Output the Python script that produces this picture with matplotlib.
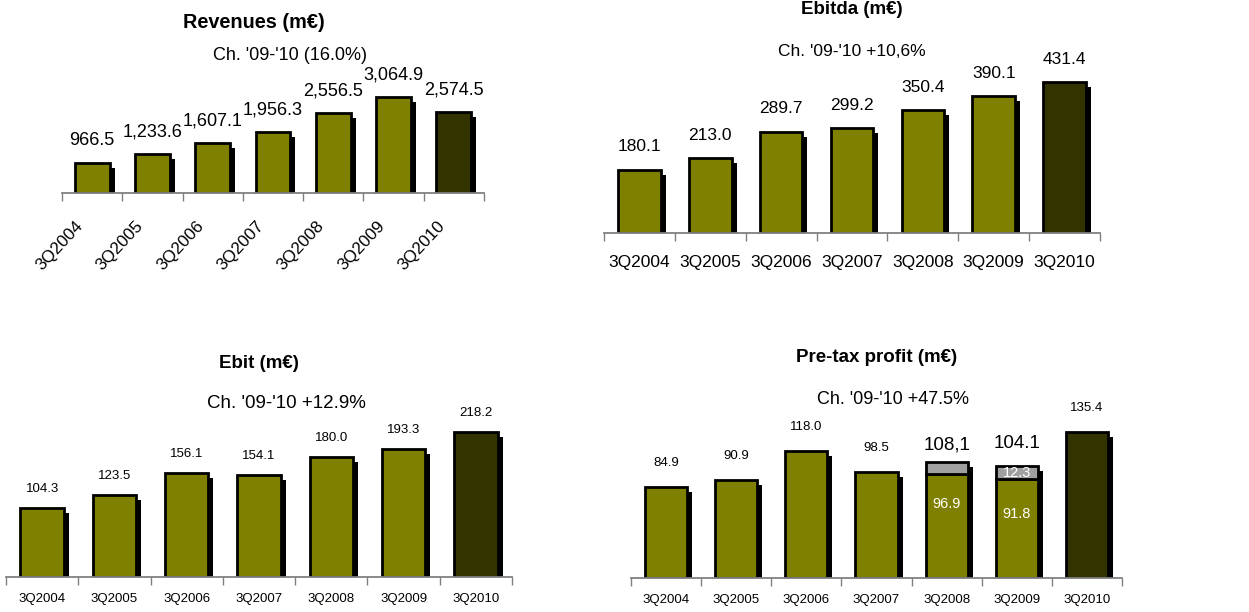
import numpy as np
import matplotlib.pyplot as plt

plt.rcParams['font.family'] = ['Liberation Sans', 'DejaVu Sans']

# ---- data ----
quarters = ['3Q2004', '3Q2005', '3Q2006', '3Q2007', '3Q2008', '3Q2009', '3Q2010']
revenues = [966.5, 1233.6, 1607.1, 1956.3, 2556.5, 3064.9, 2574.5]
ebitda = [180.1, 213.0, 289.7, 299.2, 350.4, 390.1, 431.4]
ebit = [104.3, 123.5, 156.1, 154.1, 180.0, 193.3, 218.2]
pretax_main = [84.9, 90.9, 118.0, 98.5, 96.9, 91.8, 135.4]
pretax_extra = [0, 0, 0, 0, 11.2, 12.3, 0]
pretax_labels = ['84.9', '90.9', '118.0', '98.5', '108,1', '104.1', '135.4']
inner_labels = ['', '', '', '', '96.9', '91.8', '']
extra_labels = ['', '', '', '', '', '12.3', '']

OLIVE = '#808000'
DARK = '#333300'
GREY_SEG = '#A0A0A0'
AXIS_GREY = '#808080'

W, H = 1249, 612
fig = plt.figure(figsize=(W / 100, H / 100), dpi=100)


def px(x, y):
    return x / W, 1 - y / H


def panel(left, right, base, top, scale):
    ax = fig.add_axes([left / W, 1 - base / H, (right - left) / W, (base - top) / H])
    n = len(quarters)
    ax.set_xlim(-0.5, n - 0.5)
    ax.set_ylim(0, (base - top) / scale)
    for s in ['top', 'right', 'left']:
        ax.spines[s].set_visible(False)
    ax.spines['bottom'].set_color(AXIS_GREY)
    ax.spines['bottom'].set_linewidth(1.3)
    ax.set_yticks([])
    ax.set_xticks(np.arange(-0.5, n, 1.0))
    ax.set_xticklabels([])
    ax.tick_params(axis='x', length=6, color=AXIS_GREY, width=1.0, direction='out')
    dx = 5 / ((right - left) / n)
    dy = 5 / scale
    return ax, dx, dy


def bars(ax, vals, dx, dy, width=0.6, extra=None):
    x = np.arange(len(vals))
    vals = np.asarray(vals, dtype=float)
    total = vals + (np.asarray(extra) if extra is not None else 0)
    colors = [OLIVE] * (len(vals) - 1) + [DARK]
    ax.bar(x + dx, total - dy, width, color='black', zorder=1, lw=0)
    ax.bar(x, vals, width, color=colors, edgecolor='black', lw=2.0, zorder=2)
    if extra is not None:
        ex = np.asarray(extra, dtype=float)
        m = ex > 0
        ax.bar(x[m], ex[m], width, bottom=vals[m], color=GREY_SEG,
               edgecolor='black', lw=2.0, zorder=2)
    return total


def value_labels(ax, tops, texts, size, off=22):
    for i, (t, s) in enumerate(zip(tops, texts)):
        ax.annotate(s, (i, t), xytext=(0, off), textcoords='offset pixels',
                    ha='center', va='center', fontsize=size, zorder=5)


def cat_labels(ax, size, off):
    for i, q in enumerate(quarters):
        ax.annotate(q, (i, 0), xytext=(0, -off), textcoords='offset pixels',
                    ha='center', va='center', fontsize=size, annotation_clip=False)


# ---- Revenues ----
ax, dx, dy = panel(62, 484, 193, 30, 0.0313)
tops = bars(ax, revenues, dx, dy, width=0.58)
value_labels(ax, tops, [f'{v:,.1f}' for v in revenues], 13, off=22)
for i, q in enumerate(quarters):
    ax.annotate(q, (i, 0), xytext=(-17, -25), textcoords='offset pixels',
                ha='right', va='top', rotation=47, rotation_mode='anchor',
                fontsize=12.3, annotation_clip=False)
fig.text(*px(254, 22), 'Revenues (m€)', ha='center', va='center',
         fontsize=14.3, fontweight='bold')
fig.text(*px(290, 56), "Ch. '09-'10 (16.0%)", ha='center', va='center', fontsize=13)

# ---- Ebitda ----
ax, dx, dy = panel(604, 1100, 233, 30, 0.35)
tops = bars(ax, ebitda, dx, dy)
value_labels(ax, tops, [f'{v:.1f}' for v in ebitda], 12.5, off=23)
cat_labels(ax, 12.5, 30)
fig.text(*px(852, 9), 'Ebitda (m€)', ha='center', va='center',
         fontsize=13.5, fontweight='bold')
fig.text(*px(852, 52), "Ch. '09-'10 +10,6%", ha='center', va='center', fontsize=12.5)

# ---- Ebit ----
ax, dx, dy = panel(6, 512, 577, 380, 0.664)
tops = bars(ax, ebit, dx, dy)
value_labels(ax, tops, [f'{v:.1f}' for v in ebit], 9.5, off=19)
cat_labels(ax, 9.5, 22)
fig.text(*px(259, 363), 'Ebit (m€)', ha='center', va='center',
         fontsize=13.5, fontweight='bold')
fig.text(*px(286, 404), "Ch. '09-'10 +12.9%", ha='center', va='center', fontsize=13.5)

# ---- Pre-tax profit ----
ax, dx, dy = panel(631, 1122, 578, 380, 1.075)
tops = bars(ax, pretax_main, dx, dy, extra=pretax_extra)
for i, (t, s) in enumerate(zip(tops, pretax_labels)):
    big = pretax_extra[i] > 0
    off = 17 if i == 4 else (23 if big else 24)
    ax.annotate(s, (i, t), xytext=(0, off), textcoords='offset pixels',
                ha='center', va='center', fontsize=13.5 if big else 9.5, zorder=5)
inner_off = [0, 0, 0, 0, -30, -35, 0]
for i, s in enumerate(inner_labels):
    if s:
        ax.annotate(s, (i, pretax_main[i]), xytext=(0, inner_off[i]),
                    textcoords='offset pixels', ha='center', va='center',
                    fontsize=10.5, color='white', zorder=5)
for i, s in enumerate(extra_labels):
    if s:
        ax.annotate(s, (i, pretax_main[i] + pretax_extra[i] / 2), xytext=(0, 0),
                    textcoords='offset pixels', ha='center', va='center',
                    fontsize=10.5, color='white', zorder=5)
cat_labels(ax, 9.5, 22)
fig.text(*px(877, 357), 'Pre-tax profit (m€)', ha='center', va='center',
         fontsize=13.5, fontweight='bold')
fig.text(*px(893, 399), "Ch. '09-'10 +47.5%", ha='center', va='center', fontsize=13)

fig.savefig('out.png', dpi=100, facecolor='white')
